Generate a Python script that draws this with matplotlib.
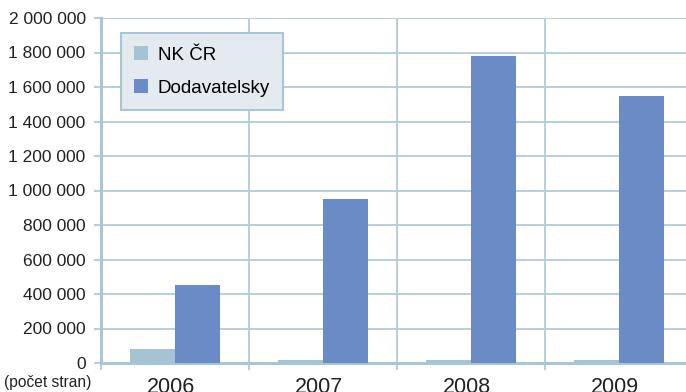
import numpy as np
import matplotlib.pyplot as plt
from matplotlib.ticker import FuncFormatter

plt.rcParams['font.family'] = ['Liberation Sans', 'DejaVu Sans']

# hodnoty (pocet stran)
roky = ['2006', '2007', '2008', '2009']
nk_cr = [80000, 20000, 20000, 20000]
dodavatelsky = [450000, 950000, 1780000, 1550000]

c_nk = '#a5c3d2'
c_dod = '#6b8bc7'
c_grid = '#b7cfdc'

fig = plt.figure(figsize=(6.86, 3.92), dpi=100)
ax = fig.add_axes([101/686, 29/392, 592/686, 345/392])

x = np.arange(len(roky))
w = 0.307
ax.bar(x - w/2, nk_cr, w, color=c_nk, label='NK ČR', zorder=3)
ax.bar(x + w/2, dodavatelsky, w, color=c_dod, label='Dodavatelsky', zorder=3)

ax.set_xlim(-0.5, len(roky) - 0.5)
ax.set_ylim(0, 2000000)
ax.set_yticks(np.arange(0, 2000001, 200000))
ax.yaxis.set_major_formatter(FuncFormatter(lambda v, p: f'{int(v):,}'.replace(',', ' ')))

ax.set_xticks(x - 0.03)
ax.set_xticklabels(roky, fontsize=15.5)
ax.set_xticks(np.arange(-0.5, len(roky)), minor=True)
ax.tick_params(axis='x', which='major', length=0, pad=10, colors='#222222')
ax.tick_params(axis='x', which='minor', length=5, color=c_grid, width=1.5)
ax.tick_params(axis='y', length=5, color=c_grid, width=1.5, labelsize=12.5,
               pad=6)
for t in ax.get_yticklabels():
    t.set_color('#222222')

ax.grid(axis='y', color=c_grid, lw=1.4, zorder=0)
ax.xaxis.grid(True, which='minor', color=c_grid, lw=1.4, zorder=0)

for s in ['top', 'right']:
    ax.spines[s].set_visible(False)
ax.spines['left'].set_color('#a9c6d6')
ax.spines['left'].set_linewidth(2.2)
ax.spines['bottom'].set_color('#a9c6d6')
ax.spines['bottom'].set_linewidth(2.2)

leg = ax.legend(loc='upper left', bbox_to_anchor=(20/592, 1 - 15/345),
                fontsize=13.5, frameon=True, fancybox=False,
                handlelength=0.75, handleheight=0.75, handletextpad=0.5,
                labelspacing=0.85, borderpad=0.7, borderaxespad=0)
leg.get_frame().set_facecolor('#e3ebf0')
leg.get_frame().set_edgecolor('#a9c6d6')
leg.get_frame().set_linewidth(1.5)
leg.get_frame().set_alpha(1)
leg.set_zorder(5)

fig.text(4/686, 1 - 382/392, '(počet stran)', fontsize=11.2, color='#222222',
         va='center', ha='left')

fig.savefig('out.png', dpi=100)
